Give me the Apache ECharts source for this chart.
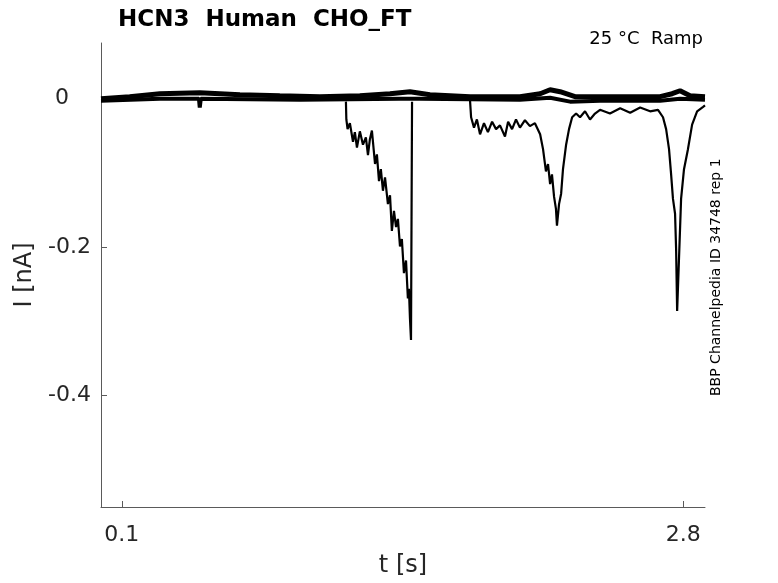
<!DOCTYPE html>
<html>
<head>
<meta charset="utf-8">
<script src="https://cdn.jsdelivr.net/npm/echarts@6/dist/echarts.min.js"></script>
<style>
  html, body { margin: 0; padding: 0; background: #fff; }
  #chart { width: 778px; height: 583px; }
</style>
</head>
<body>
<div id="chart"></div>
<script>
// 基线 1（上沿，带小鼓包）
var baseT1 = [0.0, 0.138, 0.283, 0.475, 0.668, 0.860, 1.053, 1.245, 1.390, 1.486, 1.582, 1.775, 2.015, 2.112, 2.160, 2.208, 2.280, 2.497, 2.689, 2.747, 2.785, 2.833, 2.905];
var baseI1 = [0.0, 0.0027, 0.0067, 0.008, 0.0054, 0.004, 0.0027, 0.004, 0.0067, 0.0094, 0.0054, 0.0027, 0.0027, 0.0067, 0.012, 0.0094, 0.0027, 0.0027, 0.0027, 0.0067, 0.0107, 0.004, 0.0027];

// 基线 2（下沿）
var baseT2 = [0.0, 0.283, 0.471, 0.475, 0.480, 0.957, 1.438, 1.534, 2.015, 2.160, 2.256, 2.400, 2.689, 2.785, 2.905];
var baseI2 = [-0.0027, 0.0, 0.0, -0.012, 0.0, -0.0013, 0.0, 0.0, -0.0013, 0.0013, -0.004, -0.0027, -0.0027, 0.0, -0.0013];

// 第一段下降
var dropT1 = [1.178, 1.180, 1.186, 1.197, 1.212, 1.221, 1.231, 1.245, 1.260, 1.274, 1.284, 1.293, 1.303, 1.318, 1.327, 1.337, 1.346, 1.356, 1.366, 1.380, 1.390, 1.399, 1.409, 1.419, 1.428, 1.438, 1.447, 1.457, 1.467, 1.476, 1.481, 1.486, 1.491, 1.496];
var dropI1 = [-0.004, -0.028, -0.041, -0.033, -0.058, -0.045, -0.066, -0.044, -0.062, -0.052, -0.076, -0.055, -0.043, -0.088, -0.075, -0.111, -0.095, -0.124, -0.106, -0.142, -0.130, -0.178, -0.151, -0.173, -0.162, -0.199, -0.189, -0.235, -0.218, -0.269, -0.256, -0.296, -0.325, -0.004];

// 第二段（两个尖峰）
var dropT2 = [1.775, 1.780, 1.794, 1.808, 1.823, 1.842, 1.861, 1.881, 1.900, 1.919, 1.943, 1.958, 1.977, 1.996, 2.015, 2.039, 2.063, 2.087, 2.112, 2.126, 2.140, 2.150, 2.160, 2.169, 2.179, 2.188, 2.193, 2.203, 2.213, 2.222, 2.237, 2.251, 2.266, 2.285, 2.304, 2.328, 2.352, 2.376, 2.400, 2.448, 2.497, 2.545, 2.593, 2.641, 2.679, 2.703, 2.718, 2.732, 2.742, 2.751, 2.761, 2.766, 2.771, 2.780, 2.790, 2.804, 2.823, 2.843, 2.867, 2.896, 2.905];
var dropI2 = [-0.003, -0.025, -0.039, -0.028, -0.048, -0.033, -0.045, -0.031, -0.041, -0.036, -0.051, -0.031, -0.041, -0.028, -0.039, -0.029, -0.037, -0.033, -0.048, -0.068, -0.098, -0.088, -0.115, -0.102, -0.132, -0.148, -0.171, -0.142, -0.128, -0.095, -0.062, -0.041, -0.025, -0.020, -0.025, -0.017, -0.028, -0.020, -0.015, -0.020, -0.013, -0.019, -0.012, -0.017, -0.015, -0.025, -0.041, -0.068, -0.102, -0.135, -0.155, -0.202, -0.286, -0.215, -0.135, -0.095, -0.068, -0.035, -0.017, -0.011, -0.009];

// 刻度
var xTicks = [0.1, 2.8];
var yTicks = [0, -0.2, -0.4];

function pairs(t, v) {
    var out = [];
    for (var i = 0; i < t.length; i++) {
        out.push([t[i], v[i]]);
    }
    return out;
}

var axisColor = '#5a5a5a';
var textColor = '#262626';

var option = {
    animation: false,
    backgroundColor: '#fff',
    textStyle: { fontFamily: 'DejaVu Sans' },
    title: {
        text: 'HCN3  Human  CHO_FT',
        left: 113,
        top: 4,
        textStyle: { fontSize: 23, fontWeight: 'bold', color: '#000', fontFamily: 'DejaVu Sans' }
    },
    grid: {
        left: 101,
        top: 43,
        right: 73,
        bottom: 73,
        containLabel: false
    },
    xAxis: {
        type: 'value',
        min: 0,
        max: 2.905,
        name: 't [s]',
        nameLocation: 'middle',
        nameGap: 47,
        nameTextStyle: { fontSize: 24, color: textColor },
        axisLine: { show: true, onZero: false, lineStyle: { color: axisColor, width: 1 } },
        axisTick: { show: true, inside: true, length: 6, customValues: xTicks, lineStyle: { color: axisColor } },
        axisLabel: { customValues: xTicks, fontSize: 22, color: textColor, margin: 17,
            formatter: function (v) { return v.toFixed(1); } },
        splitLine: { show: false }
    },
    yAxis: {
        type: 'value',
        min: -0.55,
        max: 0.075,
        name: 'I [nA]',
        nameLocation: 'middle',
        nameGap: 60,
        nameTextStyle: { fontSize: 24, color: textColor },
        axisLine: { show: true, onZero: false, lineStyle: { color: axisColor, width: 1 } },
        axisTick: { show: true, inside: true, length: 6, customValues: yTicks, lineStyle: { color: axisColor } },
        axisLabel: { customValues: yTicks, fontSize: 22, color: textColor, margin: 10,
            formatter: function (v) { return v === 0 ? '0\u2002\u2002' : String(v); } },
        splitLine: { show: false }
    },
    graphic: [
        {
            type: 'text',
            right: 75,
            top: 30,
            style: { text: '25 °C  Ramp', fontSize: 18, fill: '#000', fontFamily: 'DejaVu Sans' }
        },
        {
            type: 'text',
            x: 709,
            y: 396,
            rotation: Math.PI / 2,
            style: { text: 'BBP Channelpedia ID 34748 rep 1', fontSize: 14, fill: '#000', fontFamily: 'DejaVu Sans' }
        }
    ],
    series: [
        {
            type: 'line', showSymbol: false, symbol: 'none',
            data: pairs(baseT1, baseI1),
            lineStyle: { color: '#000', width: 5 }
        },
        {
            type: 'line', showSymbol: false, symbol: 'none',
            data: pairs(baseT2, baseI2),
            lineStyle: { color: '#000', width: 4 }
        },
        {
            type: 'line', showSymbol: false, symbol: 'none',
            data: pairs(dropT1, dropI1),
            lineStyle: { color: '#000', width: 2.2 }
        },
        {
            type: 'line', showSymbol: false, symbol: 'none',
            data: pairs(dropT2, dropI2),
            lineStyle: { color: '#000', width: 2.2 }
        }
    ]
};

var chart = echarts.init(document.getElementById('chart'));
chart.setOption(option);
</script>
</body>
</html>
